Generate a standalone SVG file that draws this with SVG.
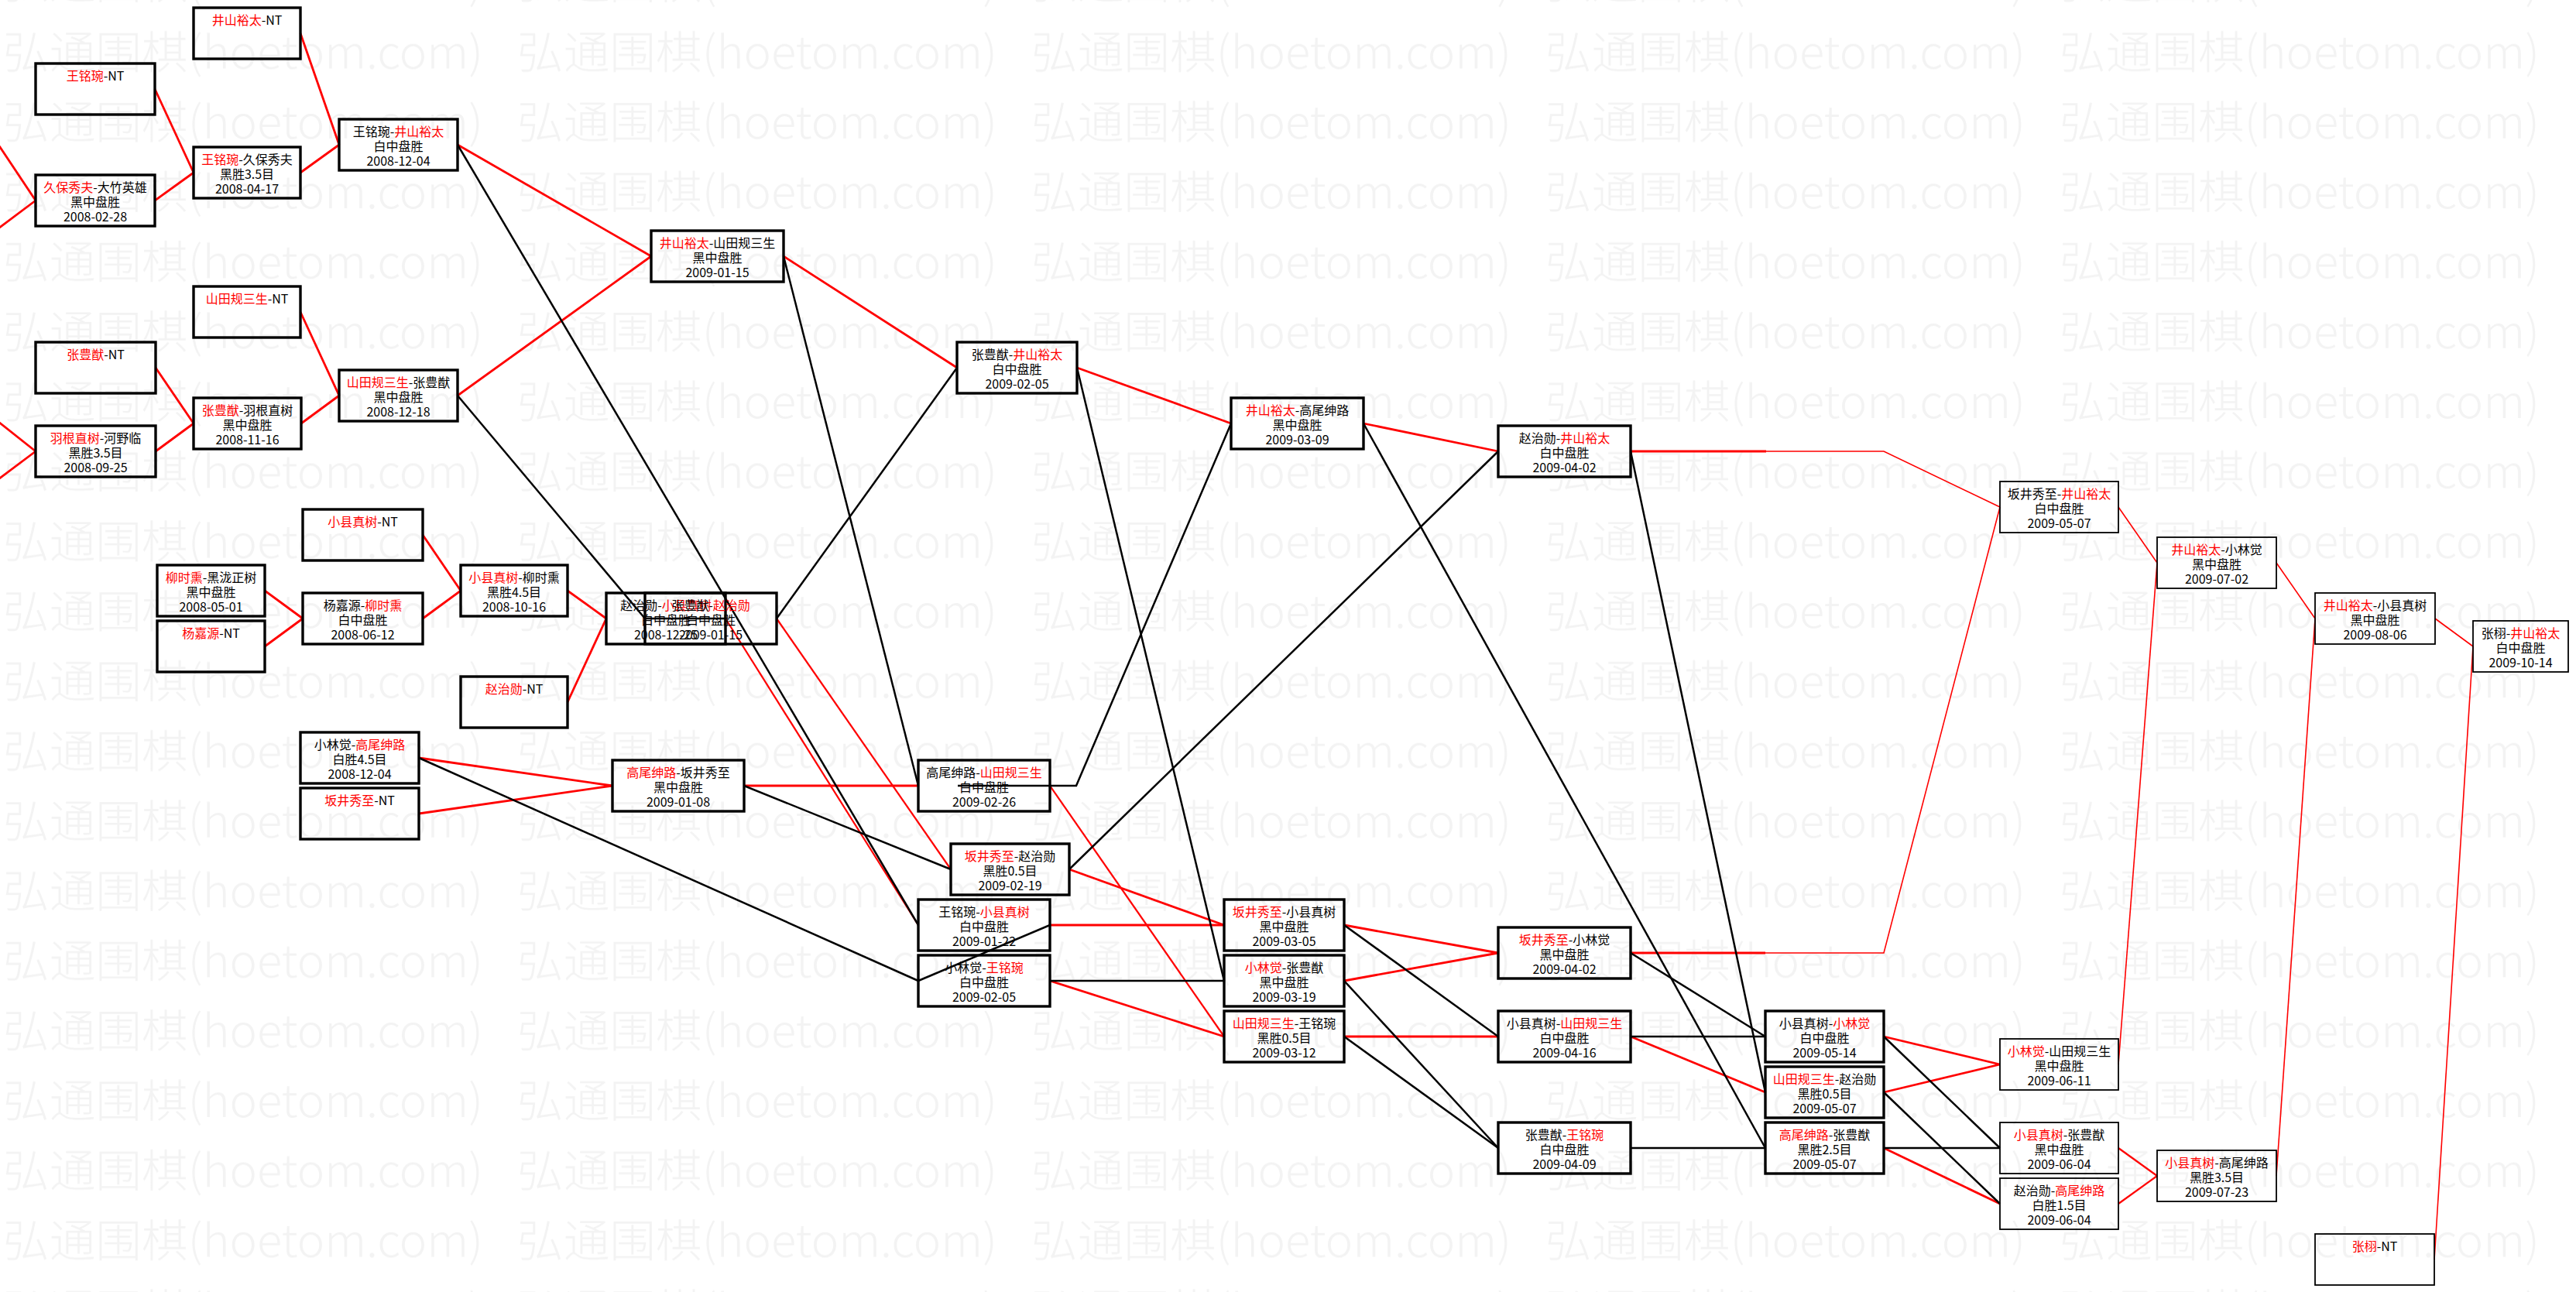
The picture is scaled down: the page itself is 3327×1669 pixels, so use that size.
<svg xmlns="http://www.w3.org/2000/svg" width="3327" height="1669" viewBox="0 0 3327 1669">
<style>
.node rect{fill:none;stroke:#000;stroke-width:3.4}
.node.thin rect{stroke-width:1.8}
.node text{font-family:"Noto Sans CJK SC","Noto Sans CJK JP",sans-serif;font-size:16px;text-anchor:middle;fill:#000}
.r{fill:#f00}
.node text .r{fill:#f00}
#connectors line,#connectors polyline{fill:none;stroke-linecap:butt}
.cr{stroke:#f00;stroke-width:2.8}
.cr2{stroke:#f00;stroke-width:2.2}
.ct{stroke:#f00;stroke-width:1.6}
.ck{stroke:#000;stroke-width:2.5}
.wm{font-family:"Noto Sans CJK SC",sans-serif;font-size:58px;font-weight:300;fill:#f3f3f3}
</style>
<defs>
<pattern id="wmp" x="0" y="20" width="664" height="90.3" patternUnits="userSpaceOnUse">
<text class="wm" x="4" y="68" textLength="620" lengthAdjust="spacingAndGlyphs">弘通围棋(hoetom.com)</text>
</pattern>
</defs>
<rect width="3327" height="1669" fill="#fff"/>
<rect id="watermark" width="3327" height="1669" fill="url(#wmp)"/>

<g id="connectors">
<line class="cr" x1="200" y1="115" x2="250" y2="223"/>
<line class="cr" x1="200" y1="259" x2="250" y2="223"/>
<line class="cr" x1="-2" y1="187" x2="46" y2="259"/>
<line class="cr" x1="-2" y1="295" x2="46" y2="259"/>
<line class="cr" x1="388" y1="43" x2="438" y2="187"/>
<line class="cr" x1="388" y1="223" x2="438" y2="187"/>
<line class="cr" x1="201" y1="475" x2="250" y2="547"/>
<line class="cr" x1="201" y1="583" x2="250" y2="547"/>
<line class="cr" x1="-2" y1="545" x2="46" y2="583"/>
<line class="cr" x1="-2" y1="619" x2="46" y2="583"/>
<line class="cr" x1="388" y1="403" x2="438" y2="511"/>
<line class="cr" x1="389" y1="547" x2="438" y2="511"/>
<line class="cr" x1="591" y1="187" x2="841" y2="331"/>
<line class="cr" x1="591" y1="511" x2="841" y2="331"/>
<line class="cr" x1="342" y1="763" x2="391" y2="799"/>
<line class="cr" x1="342" y1="835" x2="391" y2="799"/>
<line class="cr" x1="546" y1="691" x2="595" y2="763"/>
<line class="cr" x1="546" y1="799" x2="595" y2="763"/>
<line class="cr" x1="733" y1="763" x2="783" y2="799"/>
<line class="cr" x1="733" y1="907" x2="783" y2="799"/>
<line class="cr2" x1="937" y1="799" x2="1186" y2="1195"/>
<line class="cr2" x1="1003" y1="799" x2="1228" y2="1123"/>
<line class="cr" x1="541" y1="979" x2="791" y2="1015"/>
<line class="cr" x1="541" y1="1051" x2="791" y2="1015"/>
<line class="cr" x1="961" y1="1015" x2="1186" y2="1015"/>
<line class="cr" x1="1012" y1="331" x2="1236" y2="475"/>
<line class="cr" x1="1391" y1="475" x2="1590" y2="547"/>
<line class="cr2" x1="1356" y1="1015" x2="1581" y2="1339"/>
<line class="cr" x1="1356" y1="1195" x2="1581" y2="1195"/>
<line class="cr" x1="1381" y1="1123" x2="1581" y2="1195"/>
<line class="cr" x1="1356" y1="1267" x2="1581" y2="1339"/>
<line class="cr" x1="1761" y1="547" x2="1935" y2="583"/>
<line class="cr" x1="1736" y1="1195" x2="1935" y2="1231"/>
<line class="cr" x1="1736" y1="1267" x2="1935" y2="1231"/>
<line class="cr" x1="1736" y1="1339" x2="1935" y2="1339"/>
<line class="cr" x1="2106" y1="583" x2="2281" y2="583"/>
<polyline class="ct" points="2281,583 2433,583 2583,655"/>
<line class="cr" x1="2106" y1="1231" x2="2280" y2="1231"/>
<polyline class="ct" points="2280,1231 2433,1231 2583,655"/>
<line class="cr" x1="2106" y1="1339" x2="2280" y2="1411"/>
<line class="cr" x1="2433" y1="1339" x2="2583" y2="1375"/>
<line class="cr" x1="2433" y1="1411" x2="2583" y2="1375"/>
<line class="cr" x1="2433" y1="1483" x2="2583" y2="1555"/>
<line class="cr2" x1="2736" y1="1483" x2="2786" y2="1519"/>
<line class="cr2" x1="2736" y1="1555" x2="2786" y2="1519"/>
<line class="ct" x1="2736" y1="655" x2="2786" y2="727"/>
<line class="ct" x1="2736" y1="1375" x2="2786" y2="727"/>
<line class="ct" x1="2940" y1="727" x2="2990" y2="799"/>
<line class="ct" x1="2940" y1="1519" x2="2990" y2="799"/>
<line class="ct" x1="3145" y1="799" x2="3194" y2="835"/>
<line class="ct" x1="3144" y1="1627" x2="3194" y2="835"/>

<line class="ck" x1="591" y1="187" x2="1186" y2="1195"/>
<line class="ck" x1="591" y1="511" x2="833" y2="799"/>
<line class="ck" x1="937" y1="799" x2="833" y2="799"/>
<line class="ck" x1="1003" y1="799" x2="1236" y2="475"/>
<line class="ck" x1="541" y1="979" x2="1186" y2="1267"/>
<line class="ck" x1="961" y1="1015" x2="1228" y2="1123"/>
<line class="ck" x1="1012" y1="331" x2="1186" y2="1015"/>
<line class="ck" x1="1391" y1="475" x2="1581" y2="1267"/>
<polyline class="ck" points="1237,1015 1390,1015 1590,547"/>
<line class="ck" x1="1356" y1="1195" x2="1186" y2="1267"/>
<line class="ck" x1="1356" y1="1267" x2="1581" y2="1267"/>
<line class="ck" x1="1381" y1="1123" x2="1935" y2="583"/>
<line class="ck" x1="1736" y1="1195" x2="1935" y2="1339"/>
<line class="ck" x1="1736" y1="1267" x2="1935" y2="1483"/>
<line class="ck" x1="1736" y1="1339" x2="1935" y2="1483"/>
<line class="ck" x1="1761" y1="547" x2="2280" y2="1483"/>
<line class="ck" x1="2106" y1="583" x2="2280" y2="1411"/>
<line class="ck" x1="2106" y1="1231" x2="2280" y2="1339"/>
<line class="ck" x1="2106" y1="1339" x2="2280" y2="1339"/>
<line class="ck" x1="2106" y1="1483" x2="2280" y2="1483"/>
<line class="ck" x1="2433" y1="1339" x2="2583" y2="1483"/>
<line class="ck" x1="2433" y1="1411" x2="2583" y2="1555"/>
<line class="ck" x1="2433" y1="1483" x2="2583" y2="1483"/>
</g>

<g id="n1" class="node"><rect x="46" y="82" width="154" height="66"/><text x="123" y="104"><tspan class="r">王铭琬</tspan>-NT</text></g>
<g id="n2" class="node"><rect x="46" y="226" width="154" height="66"/><text x="123" y="248"><tspan class="r">久保秀夫</tspan>-大竹英雄</text><text x="123" y="267">黑中盘胜</text><text x="123" y="286">2008-02-28</text></g>
<g id="n3" class="node"><rect x="46" y="442" width="155" height="66"/><text x="123.5" y="464"><tspan class="r">张豊猷</tspan>-NT</text></g>
<g id="n4" class="node"><rect x="46" y="550" width="155" height="66"/><text x="123.5" y="572"><tspan class="r">羽根直树</tspan>-河野临</text><text x="123.5" y="591">黑胜3.5目</text><text x="123.5" y="610">2008-09-25</text></g>
<g id="n5" class="node"><rect x="250" y="10" width="138" height="66"/><text x="319" y="32"><tspan class="r">井山裕太</tspan>-NT</text></g>
<g id="n6" class="node"><rect x="250" y="190" width="138" height="66"/><text x="319" y="212"><tspan class="r">王铭琬</tspan>-久保秀夫</text><text x="319" y="231">黑胜3.5目</text><text x="319" y="250">2008-04-17</text></g>
<g id="n7" class="node"><rect x="250" y="370" width="138" height="66"/><text x="319" y="392"><tspan class="r">山田规三生</tspan>-NT</text></g>
<g id="n8" class="node"><rect x="250" y="514" width="139" height="66"/><text x="319.5" y="536"><tspan class="r">张豊猷</tspan>-羽根直树</text><text x="319.5" y="555">黑中盘胜</text><text x="319.5" y="574">2008-11-16</text></g>
<g id="n9" class="node"><rect x="438" y="154" width="153" height="66"/><text x="514.5" y="176">王铭琬-<tspan class="r">井山裕太</tspan></text><text x="514.5" y="195">白中盘胜</text><text x="514.5" y="214">2008-12-04</text></g>
<g id="n10" class="node"><rect x="438" y="478" width="153" height="66"/><text x="514.5" y="500"><tspan class="r">山田规三生</tspan>-张豊猷</text><text x="514.5" y="519">黑中盘胜</text><text x="514.5" y="538">2008-12-18</text></g>
<g id="n11" class="node"><rect x="391" y="658" width="155" height="66"/><text x="468.5" y="680"><tspan class="r">小县真树</tspan>-NT</text></g>
<g id="n12" class="node"><rect x="203" y="730" width="139" height="66"/><text x="272.5" y="752"><tspan class="r">柳时熏</tspan>-黑泷正树</text><text x="272.5" y="771">黑中盘胜</text><text x="272.5" y="790">2008-05-01</text></g>
<g id="n13" class="node"><rect x="391" y="766" width="155" height="66"/><text x="468.5" y="788">杨嘉源-<tspan class="r">柳时熏</tspan></text><text x="468.5" y="807">白中盘胜</text><text x="468.5" y="826">2008-06-12</text></g>
<g id="n14" class="node"><rect x="203" y="802" width="139" height="66"/><text x="272.5" y="824"><tspan class="r">杨嘉源</tspan>-NT</text></g>
<g id="n15" class="node"><rect x="595" y="730" width="138" height="66"/><text x="664" y="752"><tspan class="r">小县真树</tspan>-柳时熏</text><text x="664" y="771">黑胜4.5目</text><text x="664" y="790">2008-10-16</text></g>
<g id="n16" class="node"><rect x="595" y="874" width="138" height="66"/><text x="664" y="896"><tspan class="r">赵治勋</tspan>-NT</text></g>
<g id="n17" class="node"><rect x="388" y="946" width="153" height="66"/><text x="464.5" y="968">小林觉-<tspan class="r">高尾绅路</tspan></text><text x="464.5" y="987">白胜4.5目</text><text x="464.5" y="1006">2008-12-04</text></g>
<g id="n18" class="node"><rect x="388" y="1018" width="153" height="66"/><text x="464.5" y="1040"><tspan class="r">坂井秀至</tspan>-NT</text></g>
<g id="n19" class="node"><rect x="791" y="982" width="170" height="66"/><text x="876" y="1004"><tspan class="r">高尾绅路</tspan>-坂井秀至</text><text x="876" y="1023">黑中盘胜</text><text x="876" y="1042">2009-01-08</text></g>
<g id="n20" class="node"><rect x="783" y="766" width="154" height="66"/><text x="860" y="788">赵治勋-<tspan class="r">小县真树</tspan></text><text x="860" y="807">白中盘胜</text><text x="860" y="826">2008-12-25</text></g>
<g id="n21" class="node"><rect x="833" y="766" width="170" height="66"/><text x="918" y="788">张豊猷-<tspan class="r">赵治勋</tspan></text><text x="918" y="807">白中盘胜</text><text x="918" y="826">2009-01-15</text></g>
<g id="n22" class="node"><rect x="841" y="298" width="171" height="66"/><text x="926.5" y="320"><tspan class="r">井山裕太</tspan>-山田规三生</text><text x="926.5" y="339">黑中盘胜</text><text x="926.5" y="358">2009-01-15</text></g>
<g id="n23" class="node"><rect x="1236" y="442" width="155" height="66"/><text x="1313.5" y="464">张豊猷-<tspan class="r">井山裕太</tspan></text><text x="1313.5" y="483">白中盘胜</text><text x="1313.5" y="502">2009-02-05</text></g>
<g id="n24" class="node"><rect x="1186" y="982" width="170" height="66"/><text x="1271" y="1004">高尾绅路-<tspan class="r">山田规三生</tspan></text><text x="1271" y="1023">白中盘胜</text><text x="1271" y="1042">2009-02-26</text></g>
<g id="n25" class="node"><rect x="1228" y="1090" width="153" height="66"/><text x="1304.5" y="1112"><tspan class="r">坂井秀至</tspan>-赵治勋</text><text x="1304.5" y="1131">黑胜0.5目</text><text x="1304.5" y="1150">2009-02-19</text></g>
<g id="n26" class="node"><rect x="1186" y="1162" width="170" height="66"/><text x="1271" y="1184">王铭琬-<tspan class="r">小县真树</tspan></text><text x="1271" y="1203">白中盘胜</text><text x="1271" y="1222">2009-01-22</text></g>
<g id="n27" class="node"><rect x="1186" y="1234" width="170" height="66"/><text x="1271" y="1256">小林觉-<tspan class="r">王铭琬</tspan></text><text x="1271" y="1275">白中盘胜</text><text x="1271" y="1294">2009-02-05</text></g>
<g id="n28" class="node"><rect x="1590" y="514" width="171" height="66"/><text x="1675.5" y="536"><tspan class="r">井山裕太</tspan>-高尾绅路</text><text x="1675.5" y="555">黑中盘胜</text><text x="1675.5" y="574">2009-03-09</text></g>
<g id="n29" class="node"><rect x="1581" y="1162" width="155" height="66"/><text x="1658.5" y="1184"><tspan class="r">坂井秀至</tspan>-小县真树</text><text x="1658.5" y="1203">黑中盘胜</text><text x="1658.5" y="1222">2009-03-05</text></g>
<g id="n30" class="node"><rect x="1581" y="1234" width="155" height="66"/><text x="1658.5" y="1256"><tspan class="r">小林觉</tspan>-张豊猷</text><text x="1658.5" y="1275">黑中盘胜</text><text x="1658.5" y="1294">2009-03-19</text></g>
<g id="n31" class="node"><rect x="1581" y="1306" width="155" height="66"/><text x="1658.5" y="1328"><tspan class="r">山田规三生</tspan>-王铭琬</text><text x="1658.5" y="1347">黑胜0.5目</text><text x="1658.5" y="1366">2009-03-12</text></g>
<g id="n32" class="node"><rect x="1935" y="550" width="171" height="66"/><text x="2020.5" y="572">赵治勋-<tspan class="r">井山裕太</tspan></text><text x="2020.5" y="591">白中盘胜</text><text x="2020.5" y="610">2009-04-02</text></g>
<g id="n33" class="node"><rect x="1935" y="1198" width="171" height="66"/><text x="2020.5" y="1220"><tspan class="r">坂井秀至</tspan>-小林觉</text><text x="2020.5" y="1239">黑中盘胜</text><text x="2020.5" y="1258">2009-04-02</text></g>
<g id="n34" class="node"><rect x="1935" y="1306" width="171" height="66"/><text x="2020.5" y="1328">小县真树-<tspan class="r">山田规三生</tspan></text><text x="2020.5" y="1347">白中盘胜</text><text x="2020.5" y="1366">2009-04-16</text></g>
<g id="n35" class="node"><rect x="1935" y="1450" width="171" height="66"/><text x="2020.5" y="1472">张豊猷-<tspan class="r">王铭琬</tspan></text><text x="2020.5" y="1491">白中盘胜</text><text x="2020.5" y="1510">2009-04-09</text></g>
<g id="n36" class="node"><rect x="2280" y="1306" width="153" height="66"/><text x="2356.5" y="1328">小县真树-<tspan class="r">小林觉</tspan></text><text x="2356.5" y="1347">白中盘胜</text><text x="2356.5" y="1366">2009-05-14</text></g>
<g id="n37" class="node"><rect x="2280" y="1378" width="153" height="66"/><text x="2356.5" y="1400"><tspan class="r">山田规三生</tspan>-赵治勋</text><text x="2356.5" y="1419">黑胜0.5目</text><text x="2356.5" y="1438">2009-05-07</text></g>
<g id="n38" class="node"><rect x="2280" y="1450" width="153" height="66"/><text x="2356.5" y="1472"><tspan class="r">高尾绅路</tspan>-张豊猷</text><text x="2356.5" y="1491">黑胜2.5目</text><text x="2356.5" y="1510">2009-05-07</text></g>
<g id="n39" class="node thin"><rect x="2583" y="622" width="153" height="66"/><text x="2659.5" y="644">坂井秀至-<tspan class="r">井山裕太</tspan></text><text x="2659.5" y="663">白中盘胜</text><text x="2659.5" y="682">2009-05-07</text></g>
<g id="n40" class="node thin"><rect x="2583" y="1342" width="153" height="66"/><text x="2659.5" y="1364"><tspan class="r">小林觉</tspan>-山田规三生</text><text x="2659.5" y="1383">黑中盘胜</text><text x="2659.5" y="1402">2009-06-11</text></g>
<g id="n41" class="node thin"><rect x="2583" y="1450" width="153" height="66"/><text x="2659.5" y="1472"><tspan class="r">小县真树</tspan>-张豊猷</text><text x="2659.5" y="1491">黑中盘胜</text><text x="2659.5" y="1510">2009-06-04</text></g>
<g id="n42" class="node thin"><rect x="2583" y="1522" width="153" height="66"/><text x="2659.5" y="1544">赵治勋-<tspan class="r">高尾绅路</tspan></text><text x="2659.5" y="1563">白胜1.5目</text><text x="2659.5" y="1582">2009-06-04</text></g>
<g id="n43" class="node thin"><rect x="2786" y="694" width="154" height="66"/><text x="2863" y="716"><tspan class="r">井山裕太</tspan>-小林觉</text><text x="2863" y="735">黑中盘胜</text><text x="2863" y="754">2009-07-02</text></g>
<g id="n44" class="node thin"><rect x="2786" y="1486" width="154" height="66"/><text x="2863" y="1508"><tspan class="r">小县真树</tspan>-高尾绅路</text><text x="2863" y="1527">黑胜3.5目</text><text x="2863" y="1546">2009-07-23</text></g>
<g id="n45" class="node thin"><rect x="2990" y="766" width="155" height="66"/><text x="3067.5" y="788"><tspan class="r">井山裕太</tspan>-小县真树</text><text x="3067.5" y="807">黑中盘胜</text><text x="3067.5" y="826">2009-08-06</text></g>
<g id="n46" class="node thin"><rect x="2990" y="1594" width="154" height="66"/><text x="3067" y="1616"><tspan class="r">张栩</tspan>-NT</text></g>
<g id="n47" class="node thin"><rect x="3194" y="802" width="123" height="66"/><text x="3255.5" y="824">张栩-<tspan class="r">井山裕太</tspan></text><text x="3255.5" y="843">白中盘胜</text><text x="3255.5" y="862">2009-10-14</text></g>
</svg>
